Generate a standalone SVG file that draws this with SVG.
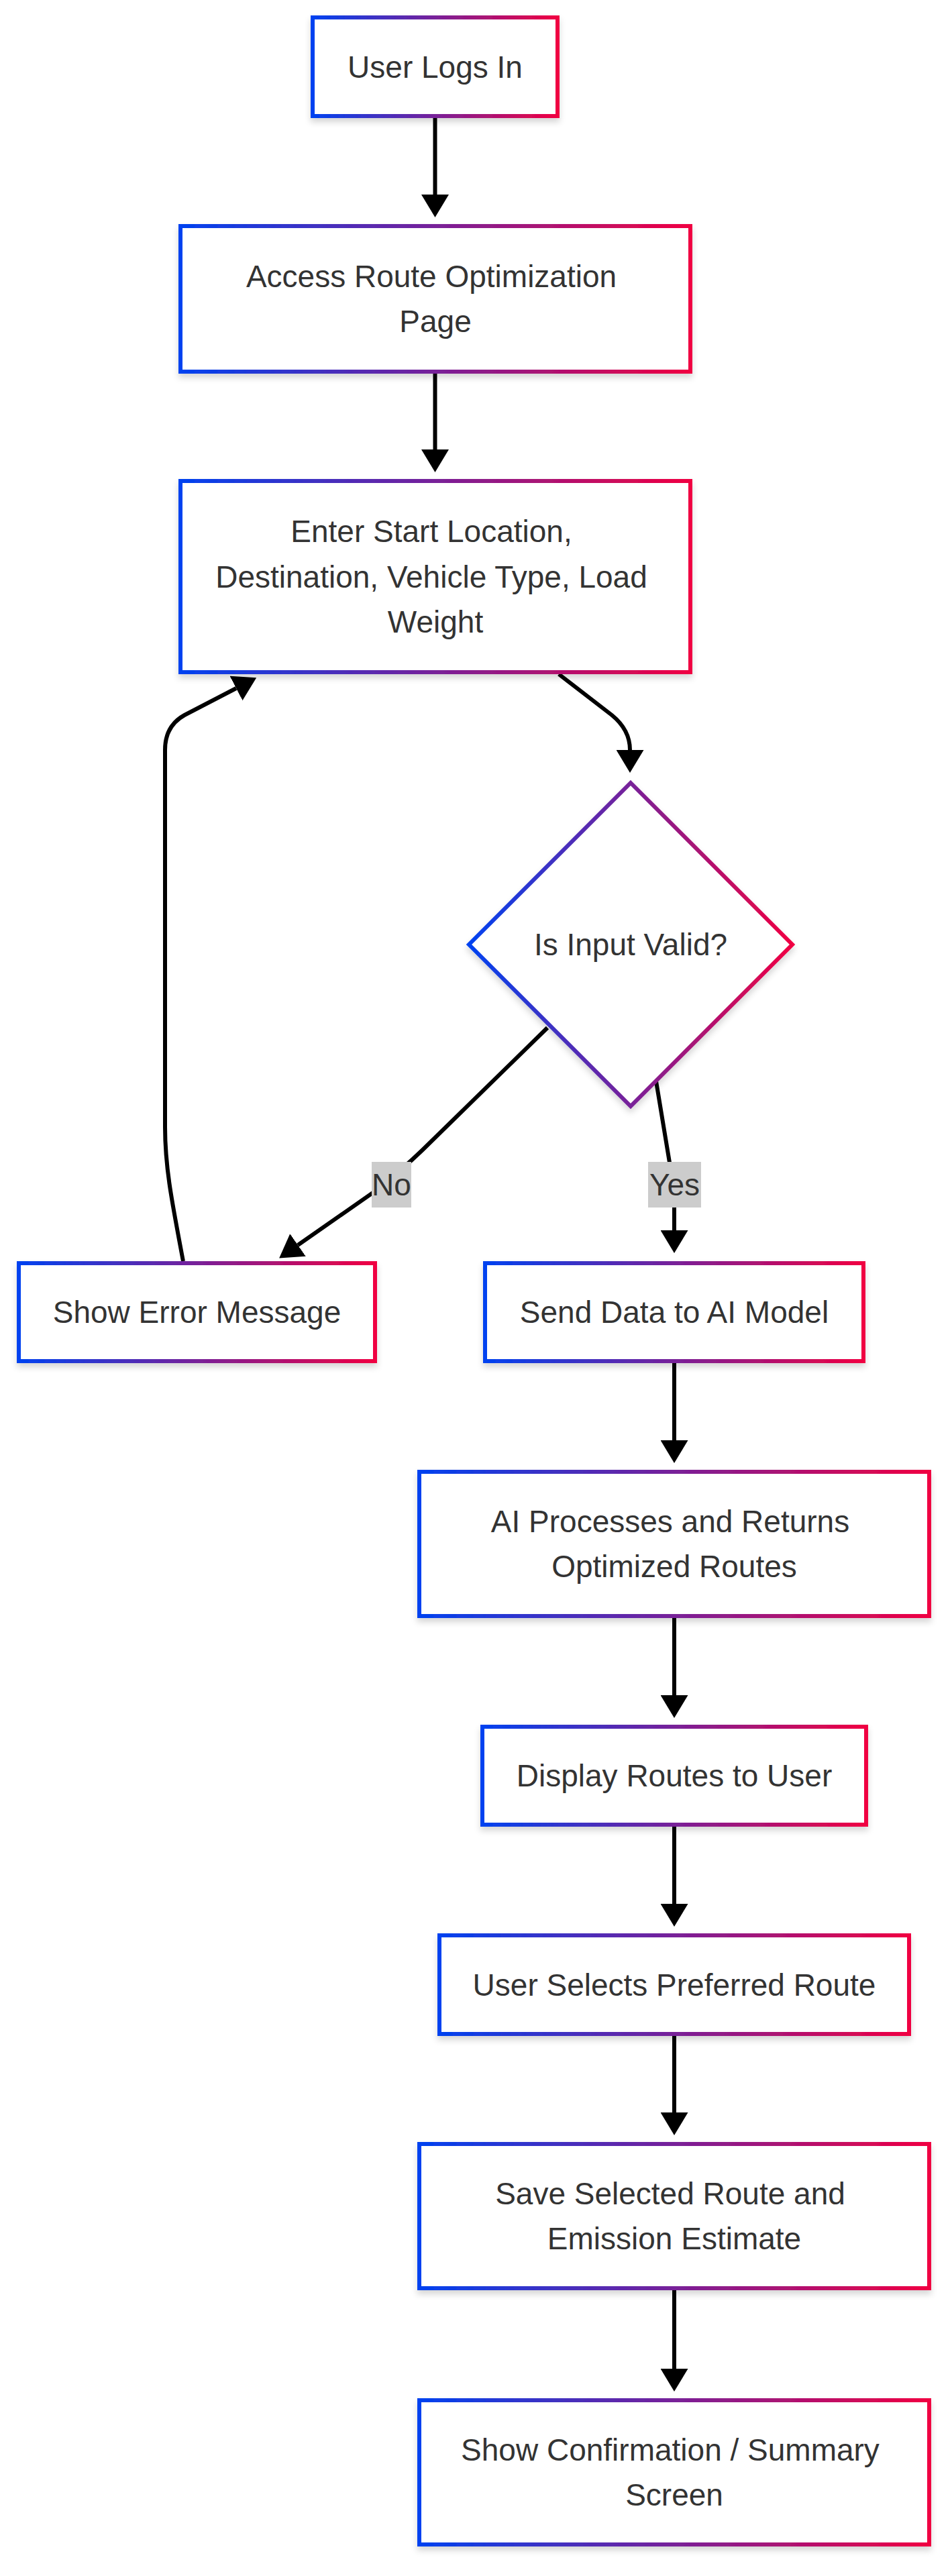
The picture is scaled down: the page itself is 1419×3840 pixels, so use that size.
<svg xmlns="http://www.w3.org/2000/svg" width="1419" height="3840" viewBox="0 0 1419 3840">
<defs>
<linearGradient id="grad" x1="0" y1="0" x2="1" y2="0">
<stop offset="0" stop-color="#0042F0"/>
<stop offset="1" stop-color="#F00042"/>
</linearGradient>
<filter id="shadow" x="-10%" y="-10%" width="120%" height="130%">
<feDropShadow dx="0" dy="6" stdDeviation="5" flood-color="#000" flood-opacity="0.16"/>
</filter>
<marker id="arrow" viewBox="0 0 34 41" refX="0" refY="20.5" markerWidth="34" markerHeight="41" markerUnits="userSpaceOnUse" orient="auto">
<path d="M0,0 L34,20.5 L0,41 z" fill="#000"/>
</marker>
</defs>
<style>
.node rect, .node polygon { fill: #ffffff; stroke: url(#grad); stroke-width: 6; filter: url(#shadow); }
.node text, .label text { font-family: "Liberation Sans", Arial, Helvetica, sans-serif; font-size: 46px; fill: #333333; text-anchor: middle; }
.edge { fill: none; stroke: #000; stroke-width: 6; marker-end: url(#arrow); }
.label rect { fill: #cccccc; }
</style>
<rect width="1419" height="3840" fill="#ffffff"/>
<g id="connectors">
<path class="edge" d="M648.5,176 L648.5,290"/>
<path class="edge" d="M648.5,557 L648.5,670"/>
<path class="edge" d="M833,1005 L912,1066 Q939,1088 939,1118"/>
<path class="edge" d="M816,1532 L630,1714 Q600,1743 560,1775 L444,1856"/>
<path class="edge" d="M978,1612 L1000,1745 Q1005,1772 1005,1800 L1005,1834"/>
<path class="edge" d="M273,1880 C256,1790 246,1740 246,1680 L246,1118 Q246,1082 275,1066 L352,1026"/>
<path class="edge" d="M1005,2032 L1005,2147"/>
<path class="edge" d="M1005,2412 L1005,2527"/>
<path class="edge" d="M1005,2723 L1005,2838"/>
<path class="edge" d="M1005,3035 L1005,3149"/>
<path class="edge" d="M1005,3414 L1005,3531"/>
<g class="label" id="label-no">
<rect x="554" y="1732" width="59" height="68"/>
<text x="583.5" y="1782">No</text>
</g>
<g class="label" id="label-yes">
<rect x="966" y="1732" width="79" height="68"/>
<text x="1005.5" y="1782">Yes</text>
</g>
</g>
<g class="node" id="n1">
<rect x="466" y="26" width="365" height="147"/>
<text x="648.5" y="115.5">User Logs In</text>
</g>
<g class="node" id="n2">
<rect x="269" y="337" width="760" height="217"/>
<text x="643" y="428">Access Route Optimization</text>
<text x="649" y="495">Page</text>
</g>
<g class="node" id="n3">
<rect x="269" y="717" width="760" height="285"/>
<text x="643" y="808">Enter Start Location,</text>
<text x="643" y="876">Destination, Vehicle Type, Load</text>
<text x="649" y="943">Weight</text>
</g>
<g class="node" id="n4">
<polygon points="940,1167 1181,1408 940,1649 699,1408"/>
<text x="940" y="1424">Is Input Valid?</text>
</g>
<g class="node" id="n5">
<rect x="28" y="1883" width="531" height="146"/>
<text x="293.5" y="1972">Show Error Message</text>
</g>
<g class="node" id="n6">
<rect x="723" y="1883" width="564" height="146"/>
<text x="1005" y="1972">Send Data to AI Model</text>
</g>
<g class="node" id="n7">
<rect x="625" y="2194" width="760" height="215"/>
<text x="999" y="2284">AI Processes and Returns</text>
<text x="1005" y="2351">Optimized Routes</text>
</g>
<g class="node" id="n8">
<rect x="719" y="2574" width="572" height="146"/>
<text x="1005" y="2663">Display Routes to User</text>
</g>
<g class="node" id="n9">
<rect x="655" y="2885" width="700" height="147"/>
<text x="1005" y="2974.5">User Selects Preferred Route</text>
</g>
<g class="node" id="n10">
<rect x="625" y="3196" width="760" height="215"/>
<text x="999" y="3286">Save Selected Route and</text>
<text x="1005" y="3353">Emission Estimate</text>
</g>
<g class="node" id="n11">
<rect x="625" y="3578" width="760" height="215"/>
<text x="999" y="3668">Show Confirmation / Summary</text>
<text x="1005" y="3735">Screen</text>
</g>
</svg>
